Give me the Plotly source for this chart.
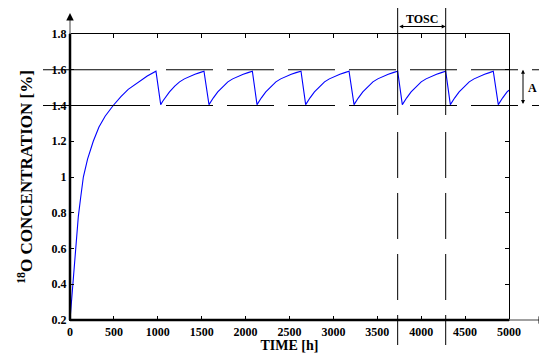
import plotly.graph_objects as go

# ---- data ----
time_h = [0, 15, 35, 64, 95, 120, 152, 200, 265, 330, 400, 492, 580, 663, 777, 880, 979,
          1033, 1058, 1083, 1133, 1193, 1248, 1303, 1363, 1423, 1478, 1526,
          1583, 1608, 1633, 1683, 1743, 1798, 1853, 1913, 1973, 2028, 2077,
          2130, 2155, 2180, 2230, 2290, 2345, 2400, 2460, 2520, 2575, 2631,
          2684, 2709, 2734, 2784, 2844, 2899, 2954, 3014, 3074, 3129, 3178,
          3235, 3260, 3285, 3335, 3395, 3450, 3505, 3565, 3625, 3680, 3732,
          3785, 3810, 3835, 3885, 3945, 4000, 4055, 4115, 4175, 4230, 4279,
          4332, 4357, 4382, 4432, 4492, 4547, 4602, 4662, 4722, 4777, 4821,
          4878, 4903, 4928, 4978, 5000]
conc = [0.20, 0.30, 0.42, 0.58, 0.78, 0.88, 1.00, 1.10, 1.20, 1.28, 1.34, 1.40, 1.45, 1.49, 1.53, 1.565, 1.592,
        1.405, 1.425, 1.443, 1.476, 1.508, 1.532, 1.549, 1.563, 1.575, 1.584, 1.592,
        1.405, 1.425, 1.443, 1.476, 1.508, 1.532, 1.549, 1.563, 1.575, 1.584, 1.592,
        1.405, 1.425, 1.443, 1.476, 1.508, 1.532, 1.549, 1.563, 1.575, 1.584, 1.592,
        1.405, 1.425, 1.443, 1.476, 1.508, 1.532, 1.549, 1.563, 1.575, 1.584, 1.592,
        1.405, 1.425, 1.443, 1.476, 1.508, 1.532, 1.549, 1.563, 1.575, 1.584, 1.592,
        1.405, 1.425, 1.443, 1.476, 1.508, 1.532, 1.549, 1.563, 1.575, 1.584, 1.592,
        1.405, 1.425, 1.443, 1.476, 1.508, 1.532, 1.549, 1.563, 1.575, 1.584, 1.592,
        1.405, 1.425, 1.443, 1.476, 1.486]

x_ticks = [0, 500, 1000, 1500, 2000, 2500, 3000, 3500, 4000, 4500, 5000]
y_ticks = [0.2, 0.4, 0.6, 0.8, 1.0, 1.2, 1.4, 1.6, 1.8]
y_tick_labels = ["0.2", "0.4", "0.6", "0.8", "1", "1.2", "1.4", "1.6", "1.8"]

band_levels = [1.6, 1.4]
tosc_marks = [3732, 4279]

X_MAX = 5000.0
Y_MIN, Y_MAX = 0.2, 1.8
PAGE_OFF = 8  # default page body margin
W, H = 547 - PAGE_OFF, 356 - PAGE_OFF
ML, MR, MT, MB = 70 - PAGE_OFF, 38, 34 - PAGE_OFF, 36
PW, PH = W - ML - MR, H - MT - MB

FONT = "Liberation Serif"


def xp(t):
    return t / X_MAX


def yp(v):
    return (v - Y_MIN) / (Y_MAX - Y_MIN)


fig = go.Figure()
fig.add_trace(go.Scatter(x=time_h, y=conc, mode="lines",
                         line=dict(color="#0000ff", width=1.1), showlegend=False))

axis_common = dict(showgrid=False, zeroline=False, showline=True, linecolor="black",
                   linewidth=1.2, mirror="ticks", ticks="inside", ticklen=4,
                   tickcolor="black", tickwidth=1, automargin=False,
                   tickfont=dict(family=FONT, size=12, color="black", weight="bold"))

fig.update_xaxes(range=[0, X_MAX], tickvals=x_ticks, ticktext=[str(v) for v in x_ticks],
                 title=dict(text="<b>TIME [h]</b>", font=dict(family=FONT, size=14, color="black"),
                            standoff=0),
                 **axis_common)
fig.update_yaxes(range=[Y_MIN, Y_MAX], tickvals=y_ticks, ticktext=y_tick_labels,
                 title=dict(text="<b><sup>18</sup>O CONCENTRATION [%]</b>",
                            font=dict(family=FONT, size=17, color="black"), standoff=14),
                 **axis_common)

shapes = []
# thick left and bottom axis lines
shapes.append(dict(type="line", xref="paper", yref="paper", x0=0, x1=0, y0=0, y1=1,
                   line=dict(color="black", width=2.5), layer="above"))
shapes.append(dict(type="line", xref="paper", yref="paper", x0=0, x1=1, y0=0, y1=0,
                   line=dict(color="black", width=2.5), layer="above"))
# axis extensions (gray) beyond box
shapes.append(dict(type="line", xref="paper", yref="paper", x0=0, x1=0, y0=1, y1=1 + 18 / PH,
                   line=dict(color="#808080", width=1.5)))
shapes.append(dict(type="line", xref="paper", yref="paper", x0=1, x1=1 + 32 / PW, y0=0, y1=0,
                   line=dict(color="#808080", width=1.5)))
# horizontal dashed band lines
hdash = "107px,16px" + ",47px,14px" * 9
for lv in band_levels:
    shapes.append(dict(type="line", xref="paper", yref="y", x0=-27 / PW, x1=1 + 38 / PW,
                       y0=lv, y1=lv, line=dict(color="black", width=1, dash=hdash)))
# vertical dashed TOSC lines
vdash = "107px,17px" + ",46px,15px" * 3 + ",46px,15px,30px,200px"
for t in tosc_marks:
    shapes.append(dict(type="line", xref="x", yref="paper", x0=t, x1=t,
                       y0=1 + 26 / PH, y1=-25 / PH,
                       line=dict(color="black", width=1, dash=vdash)))
fig.update_layout(shapes=shapes)

ann = []
# axis arrowheads
ann.append(dict(x=0, y=1 + 21 / PH, ax=0, ay=8, xref="paper", yref="paper",
                showarrow=True, arrowhead=2, arrowsize=1, arrowwidth=1.5,
                arrowcolor="black", text=""))
ann.append(dict(x=1 + 37 / PW, y=0, ax=-8, ay=0, xref="paper", yref="paper",
                showarrow=True, arrowhead=2, arrowsize=1, arrowwidth=1.5,
                arrowcolor="black", text=""))
# TOSC double arrow
tosc_y = 1 + 7.5 / PH
ann.append(dict(x=xp(tosc_marks[1]), y=tosc_y, ax=-(xp(tosc_marks[1]) - xp(tosc_marks[0])) * PW,
                ay=0, xref="paper", yref="paper", showarrow=True, arrowhead=2,
                arrowside="end+start", arrowsize=0.8, arrowwidth=1, arrowcolor="black", text=""))
ann.append(dict(x=(xp(tosc_marks[0]) + xp(tosc_marks[1])) / 2, y=1 + 15 / PH,
                xref="paper", yref="paper", text="<b>TOSC</b>", showarrow=False,
                xanchor="center", yanchor="middle",
                font=dict(family=FONT, size=12, color="black")))
# A double arrow
a_x = 1 + 14 / PW
ann.append(dict(x=a_x, y=yp(band_levels[0]), ax=0,
                ay=(yp(band_levels[0]) - yp(band_levels[1])) * PH,
                xref="paper", yref="paper", showarrow=True, arrowhead=2,
                arrowside="end+start", arrowsize=0.8, arrowwidth=1, arrowcolor="black", text=""))
ann.append(dict(x=a_x + 3 / PW, y=yp((band_levels[0] + band_levels[1]) / 2),
                xref="paper", yref="paper", text="<b>A</b>", showarrow=False,
                xanchor="left", yanchor="middle", font=dict(family=FONT, size=12, color="black")))
fig.update_layout(annotations=ann)

fig.update_layout(width=W, height=H, margin=dict(l=ML, r=MR, t=MT, b=MB, autoexpand=False),
                  paper_bgcolor="white", plot_bgcolor="white",
                  font=dict(family=FONT, color="black"))

fig.write_html("out.html")
